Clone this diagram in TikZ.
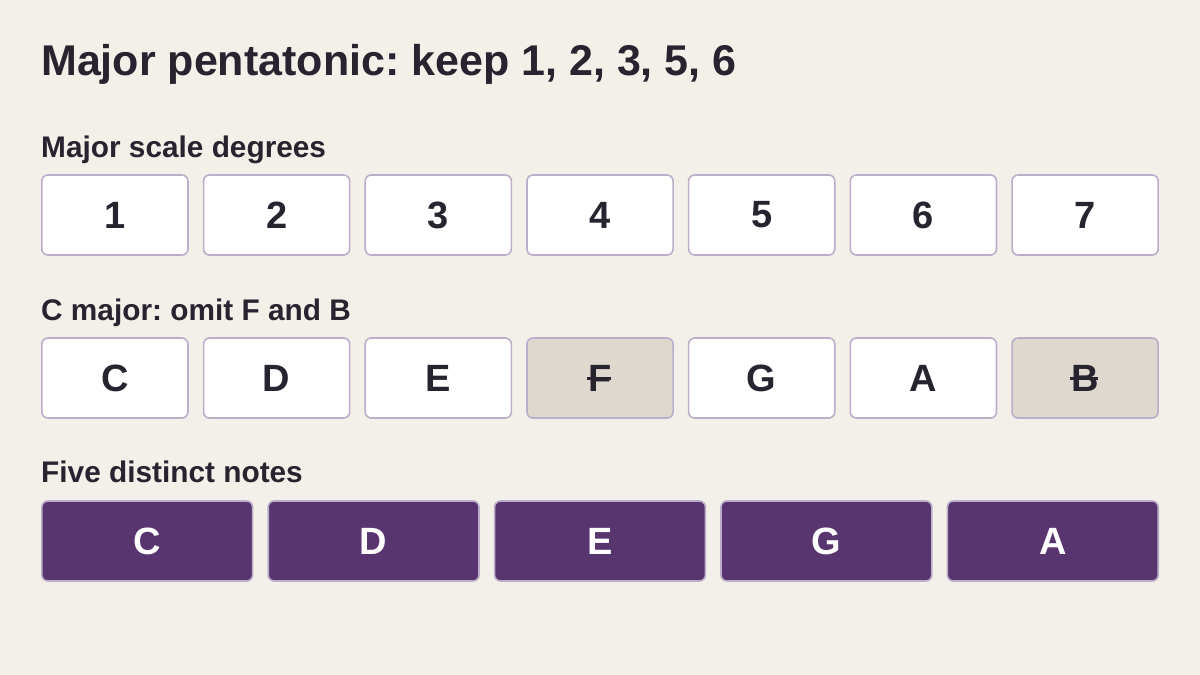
\documentclass[tikz,border=0pt]{standalone}
\usepackage{fontspec}
\setmainfont{Liberation Sans}
\frenchspacing
\usetikzlibrary{positioning}
\definecolor{paper}{HTML}{F3F0E9}
\definecolor{ink}{HTML}{27232F}
\definecolor{edge}{HTML}{BBAECB}
\definecolor{dropped}{HTML}{DED8CF}
\definecolor{kept}{HTML}{58356F}
% strike a letter through its middle
\newcommand{\struck}[1]{\setbox0\hbox{#1}\rlap{\kern-1pt\rule[\dimexpr\ht0/2-1.5pt\relax]{\wd0}{3pt}}\box0}
\tikzset{
  headline/.style={anchor=base west, inner sep=0pt, text=ink, font=\fontsize{43}{50}\selectfont\bfseries},
  rowname/.style={anchor=base west, inner sep=0pt, text=ink, font=\fontsize{29.8}{34}\selectfont\bfseries},
  cell/.style={draw=edge, line width=1.6pt, rounded corners=6pt, fill=white, text=ink,
    minimum height=80pt, inner sep=0pt, font=\fontsize{38}{44}\selectfont\bfseries},
  gone/.style={cell, fill=dropped},
  keep/.style={cell, fill=kept, text=white, minimum width=210.8pt}
}
\begin{document}
\begin{tikzpicture}[x=1pt,y=-1pt]
\useasboundingbox[fill=paper] (0,0) rectangle (1200,675);
\node[headline] (title) at (41,75) {Major pentatonic: keep 1, 2, 3, 5, 6};
% degrees
\node[rowname] (degname) at (41,157) {Major scale degrees};
\foreach \d [count=\i from 0] in {1,...,7}
  \node[cell, minimum width=146.1pt] (deg\d) at (114.9+\i*161.7,215) {\d};
% C major
\node[rowname] (notename) at (41,320) {C major: omit F and B};
\foreach \n/\s/\t [count=\i from 0] in {C/cell/C, D/cell/D, E/cell/E, F/gone/\struck{F},
    G/cell/G, A/cell/A, B/gone/\struck{B}}
  \node[\s, minimum width=146.1pt] (note\n) at (114.9+\i*161.7,378) {\t};
% pentatonic
\node[rowname] (pentname) at (41,482) {Five distinct notes};
\foreach \n [count=\i from 0] in {C,D,E,G,A}
  \node[keep] (pent\n) at (147.2+\i*226.4,541) {\n};
\end{tikzpicture}
\end{document}
